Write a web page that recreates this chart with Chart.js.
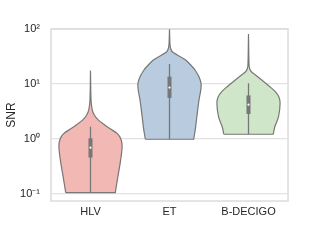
<!DOCTYPE html>
<html>
<head>
<meta charset="utf-8">
<script src="https://cdn.jsdelivr.net/npm/chart.js@4/dist/chart.umd.min.js"></script>
<style>
  html, body { margin: 0; padding: 0; background: #ffffff; }
  #wrap { width: 320px; height: 240px; }
</style>
</head>
<body>
<div id="wrap"><canvas id="c" width="320" height="240"></canvas></div>
<script>
// ---- data ----
const categories = ['HLV', 'ET', 'B-DECIGO'];
const yTickValues = [0.1, 1, 10, 100];
const yTickLabels = ['10\u207B\u00B9', '10\u2070', '10\u00B9', '10\u00B2'];

// violin outlines: SNR levels (bottom -> top) and half-widths (category units)
const hlvSnr   = [0.106, 0.2, 0.4, 0.72, 1.0, 1.25, 1.5, 1.8, 2.2, 2.7, 3.4, 5.0, 17.5];
const hlvWidth = [0.314, 0.345, 0.38, 0.40, 0.385, 0.34, 0.26, 0.18, 0.10, 0.05, 0.022, 0.007, 0];

const etSnr   = [0.99, 1.58, 2.54, 5.1, 7.2, 8.9, 10.4, 13.6, 18.0, 20.6, 27.3, 33.7, 38.6, 45.2, 53.4, 98.8];
const etWidth = [0.306, 0.329, 0.346, 0.373, 0.392, 0.40, 0.399, 0.373, 0.323, 0.289, 0.205, 0.099, 0.035, 0.013, 0.006, 0];

const bdecSnr   = [1.22, 1.67, 2.54, 4.46, 5.8, 7.24, 8.93, 11.8, 14.6, 16.5, 18.7, 22.1, 81];
const bdecWidth = [0.313, 0.333, 0.38, 0.40, 0.385, 0.339, 0.27, 0.168, 0.088, 0.04, 0.016, 0.007, 0];

// inner box statistics
const whiskerLow  = [0.106, 0.99, 1.22];
const whiskerHigh = [1.67, 23.1, 10.3];
const q1Values    = [0.46, 5.6, 2.85];
const q3Values    = [1.03, 13.6, 6.2];
const medianVals  = [0.695, 8.6, 4.2];

const fillColors = ['#f2b8b4', '#b8cbdf', '#cfe6c9'];
const lineGrey = '#777777';

function violinOutline(i, snr, width) {
  const pts = [];
  const n = snr.length;
  pts.push({x: i - width[0], y: snr[0]});
  for (let k = 0; k < n; k++) pts.push({x: i - width[k], y: snr[k]});
  for (let k = n - 1; k >= 0; k--) pts.push({x: i + width[k], y: snr[k]});
  pts.push({x: i + width[0], y: snr[0]});
  pts.push({x: i - width[0], y: snr[0]});
  return pts;
}

const violinSrc = [[hlvSnr, hlvWidth], [etSnr, etWidth], [bdecSnr, bdecWidth]];
const datasets = [];
violinSrc.forEach(([s, w], i) => {
  datasets.push({
    label: categories[i],
    data: violinOutline(i, s, w),
    showLine: true,
    fill: 'shape',
    backgroundColor: fillColors[i],
    borderColor: lineGrey,
    borderWidth: 1.2,
    tension: 0.3,
    pointRadius: 0,
    order: 4
  });
  datasets.push({
    data: [{x: i, y: whiskerLow[i]}, {x: i, y: whiskerHigh[i]}],
    showLine: true, fill: false, borderColor: lineGrey, borderWidth: 1.3,
    pointRadius: 0, order: 3
  });
  datasets.push({
    data: [{x: i, y: q1Values[i]}, {x: i, y: q3Values[i]}],
    showLine: true, fill: false, borderColor: lineGrey, borderWidth: 4,
    borderCapStyle: 'butt', pointRadius: 0, order: 2
  });
  datasets.push({
    data: [{x: i, y: medianVals[i]}],
    showLine: false, pointRadius: 1.1, pointBackgroundColor: '#ffffff',
    pointBorderWidth: 0, order: 1
  });
});

const frame = {
  id: 'frame',
  beforeDatasetsDraw(chart) {
    const {ctx, chartArea: a} = chart;
    ctx.save();
    ctx.strokeStyle = '#dcdcdc';
    ctx.lineWidth = 1.5;
    ctx.strokeRect(a.left, a.top, a.right - a.left, a.bottom - a.top);
    ctx.restore();
  }
};

const fontFam = "'Liberation Sans', Arial, sans-serif";
new Chart(document.getElementById('c'), {
  type: 'scatter',
  data: { datasets },
  options: {
    responsive: false,
    animation: false,
    events: [],
    layout: { padding: { left: 0, top: 29, right: 32, bottom: 0 } },
    plugins: { legend: { display: false }, tooltip: { enabled: false } },
    scales: {
      x: {
        type: 'linear', min: -0.5, max: 2.5,
        afterBuildTicks: (s) => { s.ticks = categories.map((c, i) => ({ value: i })); },
        afterFit: (s) => { s.height = 39; },
        grid: { display: false, drawTicks: false },
        border: { display: false },
        ticks: {
          padding: 4,
          color: '#262626',
          font: { family: fontFam, size: 11 },
          callback: (v) => categories[v]
        }
      },
      y: {
        type: 'logarithmic', min: 0.0746, max: 100,
        afterBuildTicks: (s) => { s.ticks = yTickValues.map(v => ({ value: v })); },
        afterFit: (s) => { s.width = 51; },
        grid: { color: '#e2e2e2', lineWidth: 1.3, drawTicks: false },
        border: { display: false },
        title: {
          display: true, text: 'SNR', color: '#262626',
          font: { family: fontFam, size: 12 },
          padding: { top: 4, bottom: 0 }
        },
        ticks: {
          padding: 11,
          color: '#262626',
          font: { family: fontFam, size: 11 },
          callback: (v, idx) => yTickLabels[idx]
        }
      }
    }
  },
  plugins: [frame]
});
</script>
</body>
</html>
